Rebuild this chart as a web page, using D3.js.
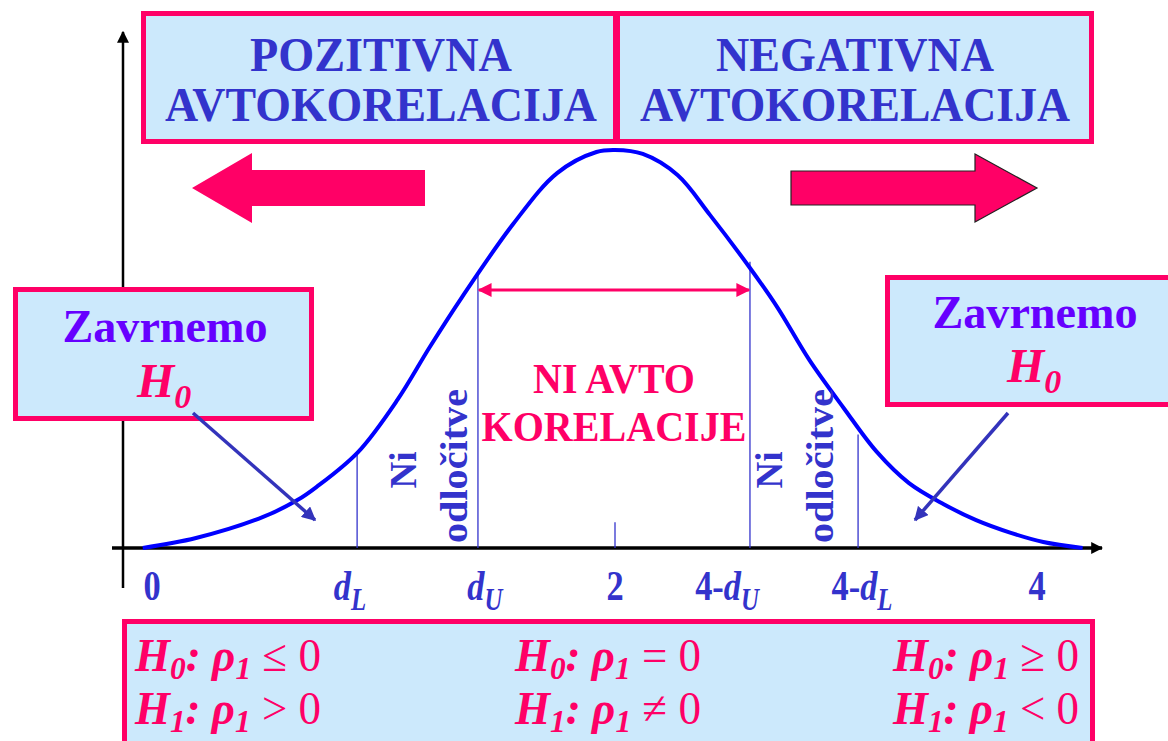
<!DOCTYPE html>
<html>
<head>
<meta charset="utf-8">
<script src="https://cdn.jsdelivr.net/npm/d3@7"></script>
<style>
  body { margin: 0; background: #fff; }
  svg { display: block; }
</style>
</head>
<body>
<div id="container"></div>
<script>
const WIDTH = 1168,
      HEIGHT = 741;

// curva (vrednosti odčitane s slike), x v enotah d, y relativna gostota
const curveX = [-0.04, 0.19, 0.48, 0.63, 0.71, 0.89, 1.06, 1.20, 1.34, 1.56, 1.75, 1.92, 2.00,
                2.12, 2.27, 2.41, 2.58, 2.70, 2.84, 2.99, 3.13, 3.27, 3.42, 3.56, 3.71, 3.85, 4.02];
const curveY = [0.000, 0.025, 0.078, 0.121, 0.153, 0.241, 0.372, 0.505, 0.631, 0.814, 0.942, 0.995, 1.000,
                0.990, 0.937, 0.837, 0.706, 0.606, 0.472, 0.350, 0.242, 0.163, 0.110, 0.070, 0.038, 0.015, 0.000];

// kritične vrednosti (navpične črte) in njihove višine
const critX = [0.886, 1.408, 2.0, 2.583, 3.05];
const critTop = [0.241, 0.686, 0.065, 0.719, 0.285];

// oznake na osi x
const tickPos = [0, 0.855, 1.438, 2.0, 2.484, 3.067, 3.823];
const tickMain = ["0", "", "", "2", "4-", "4-", "4"];
const tickItal = ["", "d", "d", "", "d", "d", ""];
const tickSub = ["", "L", "U", "", "U", "L", ""];

// hipoteze
const hypRel0 = ["\u2264 0", "= 0", "\u2265 0"];
const hypRel1 = ["> 0", "\u2260 0", "< 0"];

const PINK = "#ff0066",
      BLUE = "#3333cc",
      FILL = "#cce9fc",
      SERIF = "'Liberation Serif', 'Times New Roman', serif";

const svg = d3.select('#container')
    .append('svg')
    .attr("width", WIDTH)
    .attr("height", HEIGHT);

const xScale = d3.scaleLinear().domain([0, 4]).range([152, 1078]);
const yScale = d3.scaleLinear().domain([0, 1]).range([548, 150]);

const defs = svg.append("defs");
const marker = (id, color, size) => {
    defs.append("marker")
        .attr("id", id)
        .attr("viewBox", "0 0 10 10")
        .attr("refX", 9).attr("refY", 5)
        .attr("markerWidth", size).attr("markerHeight", size)
        .attr("markerUnits", "userSpaceOnUse")
        .attr("orient", "auto-start-reverse")
        .append("path")
        .attr("d", "M0,0 L10,5 L0,10 Z")
        .attr("fill", color);
};
marker("arrBlack", "#000", 12);
marker("arrPink", PINK, 14);
marker("arrBlue", "#3333bb", 14);

// osi
svg.append("line")
    .attr("x1", 123).attr("x2", 123)
    .attr("y1", 588).attr("y2", 32)
    .attr("stroke", "#000").attr("stroke-width", 2.5)
    .attr("marker-end", "url(#arrBlack)");

svg.append("line")
    .attr("x1", 112).attr("x2", 1102)
    .attr("y1", yScale(0)).attr("y2", yScale(0))
    .attr("stroke", "#000").attr("stroke-width", 3.5)
    .attr("marker-end", "url(#arrBlack)");

// zgornja okvirja
const topBox = (x0, x1, lines, cx) => {
    svg.append("rect")
        .attr("x", x0 + 2.5).attr("y", 13.5)
        .attr("width", x1 - x0 - 5).attr("height", 128)
        .attr("fill", FILL).attr("stroke", PINK).attr("stroke-width", 5);
    lines.forEach((l, i) => {
        svg.append("text")
            .attr("x", cx).attr("y", i === 0 ? 71 : 121)
            .attr("text-anchor", "middle")
            .attr("font-family", SERIF).attr("font-weight", "bold")
            .attr("font-size", 48)
            .attr("fill", BLUE)
            .attr("textLength", l.w).attr("lengthAdjust", "spacingAndGlyphs")
            .text(l.t);
    });
};
topBox(141, 618, [{t: "POZITIVNA", w: 262}, {t: "AVTOKORELACIJA", w: 432}], 381);
topBox(615, 1094, [{t: "NEGATIVNA", w: 278}, {t: "AVTOKORELACIJA", w: 430}], 855);

// debele puščice
svg.append("path")
    .attr("d", "M192,188 L252,153 L252,170 L425,170 L425,206 L252,206 L252,223 Z")
    .attr("fill", PINK);
svg.append("path")
    .attr("d", "M791,171 L975,171 L975,154 L1037,188 L975,222 L975,205 L791,205 Z")
    .attr("fill", PINK).attr("stroke", "#222").attr("stroke-width", 1.2);

// navpične črte
svg.selectAll(".crit")
    .data(critX)
    .join("line")
    .attr("class", "crit")
    .attr("x1", d => xScale(d)).attr("x2", d => xScale(d))
    .attr("y1", yScale(0)).attr("y2", (d, i) => yScale(critTop[i]))
    .attr("stroke", BLUE).attr("stroke-width", 1.3);

// krivulja
const line = d3.line()
    .x((d, i) => xScale(curveX[i]))
    .y(d => yScale(d))
    .curve(d3.curveCatmullRom.alpha(0.5));

svg.append("path")
    .datum(curveY)
    .attr("d", line)
    .attr("fill", "none")
    .attr("stroke", "#0000ff")
    .attr("stroke-width", 4);

// dvojna puščica
svg.append("line")
    .attr("x1", xScale(critX[1]) + 1).attr("x2", xScale(critX[3]) - 1)
    .attr("y1", 290).attr("y2", 290)
    .attr("stroke", PINK).attr("stroke-width", 3)
    .attr("marker-start", "url(#arrPink)")
    .attr("marker-end", "url(#arrPink)");

// NI AVTO KORELACIJE
[["NI AVTO", 393, 162], ["KORELACIJE", 441, 265]].forEach(([t, yy, w]) => {
    svg.append("text")
        .attr("x", 614).attr("y", yy)
        .attr("text-anchor", "middle")
        .attr("font-family", SERIF).attr("font-weight", "bold")
        .attr("font-size", 43).attr("fill", PINK)
        .attr("textLength", w).attr("lengthAdjust", "spacingAndGlyphs")
        .text(t);
});

// Ni odločitve (navpično)
const vertText = (t, bx, cy, w) => {
    svg.append("text")
        .attr("transform", `translate(${bx},${cy}) rotate(-90)`)
        .attr("text-anchor", "middle")
        .attr("font-family", SERIF).attr("font-weight", "bold")
        .attr("font-size", 38).attr("fill", BLUE)
        .attr("textLength", w).attr("lengthAdjust", "spacingAndGlyphs")
        .text(t);
};
vertText("Ni", 416, 470, 37);
vertText("odločitve", 467, 466, 154);
vertText("Ni", 782, 470, 37);
vertText("odločitve", 833, 466, 154);

// okvirja Zavrnemo H0
const rejectBox = (x0, y0, w, h, cx, y1, y2) => {
    svg.append("rect")
        .attr("x", x0 + 2.5).attr("y", y0 + 2.5)
        .attr("width", w - 5).attr("height", h - 5)
        .attr("fill", FILL).attr("stroke", PINK).attr("stroke-width", 5);
    svg.append("text")
        .attr("x", cx).attr("y", y1)
        .attr("text-anchor", "middle")
        .attr("font-family", SERIF).attr("font-weight", "bold")
        .attr("font-size", 46).attr("fill", "#6600ff")
        .attr("textLength", 205).attr("lengthAdjust", "spacingAndGlyphs")
        .text("Zavrnemo");
    const h0 = svg.append("text")
        .attr("x", cx - 28).attr("y", y2)
        .attr("font-family", SERIF).attr("font-weight", "bold")
        .attr("font-style", "italic")
        .attr("font-size", 48).attr("fill", PINK);
    h0.append("tspan").text("H");
    h0.append("tspan").attr("dy", 11).attr("font-size", 34).text("0");
};
rejectBox(13, 287, 301, 134, 165, 342, 397);
rejectBox(885, 275, 290, 132, 1035, 328, 382);

// kazalni puščici
svg.append("line")
    .attr("x1", 193).attr("y1", 413).attr("x2", 315).attr("y2", 520)
    .attr("stroke", "#3333bb").attr("stroke-width", 3.5)
    .attr("marker-end", "url(#arrBlue)");
svg.append("line")
    .attr("x1", 1008).attr("y1", 413).attr("x2", 915).attr("y2", 520)
    .attr("stroke", "#3333bb").attr("stroke-width", 3.5)
    .attr("marker-end", "url(#arrBlue)");

// oznake na osi x
const ticks = svg.selectAll(".tickLab")
    .data(tickPos)
    .join("text")
    .attr("class", "tickLab")
    .attr("transform", d => `translate(${xScale(d)},600) scale(0.8,1)`)
    .attr("text-anchor", "middle")
    .attr("font-family", SERIF).attr("font-weight", "bold")
    .attr("font-size", 43).attr("fill", BLUE);
ticks.each(function(d, i) {
    const t = d3.select(this);
    if (tickMain[i]) t.append("tspan").text(tickMain[i]);
    if (tickItal[i]) t.append("tspan").attr("font-style", "italic").text(tickItal[i]);
    if (tickSub[i]) t.append("tspan").attr("font-style", "italic")
        .attr("font-size", 31).attr("dy", 10).text(tickSub[i]);
});

// spodnji okvir s hipotezami
svg.append("rect")
    .attr("x", 124.5).attr("y", 621.5)
    .attr("width", 968).attr("height", 140)
    .attr("fill", FILL).attr("stroke", PINK).attr("stroke-width", 5);

const hypX = [135, 515, 893];
const hyp = (xx, yy, sub, rel) => {
    const t = svg.append("text")
        .attr("x", xx).attr("y", yy)
        .attr("font-family", SERIF).attr("font-size", 46)
        .attr("font-style", "italic").attr("font-weight", "bold")
        .attr("fill", PINK)
        .attr("textLength", 186).attr("lengthAdjust", "spacingAndGlyphs");
    t.append("tspan").text("H");
    t.append("tspan").attr("font-size", 32).attr("dy", 8).text(sub);
    t.append("tspan").attr("dy", -8).text(": \u03c1");
    t.append("tspan").attr("font-size", 32).attr("dy", 8).text("1");
    t.append("tspan").attr("dy", -8).attr("font-style", "normal").attr("font-weight", "normal").text(" " + rel);
};
hypX.forEach((xx, i) => {
    hyp(xx, 671, "0", hypRel0[i]);
    hyp(xx, 724, "1", hypRel1[i]);
});
</script>
</body>
</html>
